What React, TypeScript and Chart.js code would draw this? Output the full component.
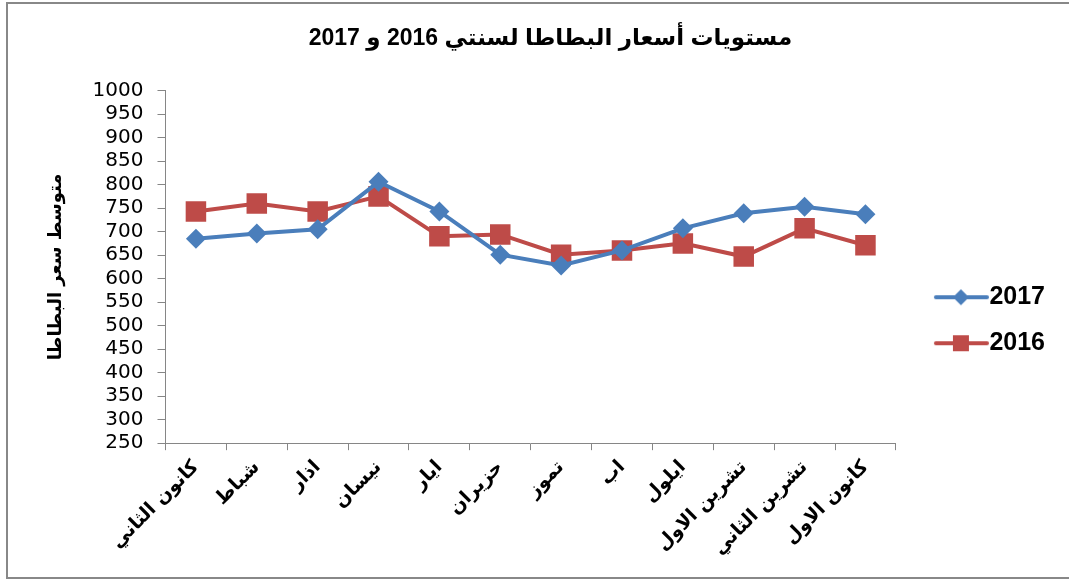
import React, { useEffect, useRef } from "react";
import { Chart, registerables } from "chart.js";

Chart.register(...registerables);

const months = [
  "كانون الثاني",
  "شباط",
  "اذار",
  "نيسان",
  "ايار",
  "حزيران",
  "تموز",
  "اب",
  "ايلول",
  "تشرين الاول",
  "تشرين الثاني",
  "كانون الاول",
];
const prices2017 = [685, 696, 705, 806, 743, 651, 628, 660, 707, 739, 753, 737];
const prices2016 = [743, 760, 743, 775, 690, 694, 651, 660, 675, 647, 707, 671];
const yMin = 250;
const yMax = 1000;
const yStep = 50;

const BLUE = "#4A7EBB";
const RED = "#BE4B48";

function legendImage(color: string, shape: "diamond" | "square") {
  const c = document.createElement("canvas");
  c.width = 84;
  c.height = 24;
  const ctx = c.getContext("2d")!;
  ctx.strokeStyle = color;
  ctx.lineWidth = 4;
  ctx.lineCap = "round";
  ctx.beginPath();
  ctx.moveTo(31, 12);
  ctx.lineTo(82, 12);
  ctx.stroke();
  ctx.fillStyle = color;
  const cx = 56;
  if (shape === "diamond") {
    ctx.beginPath();
    ctx.moveTo(cx, 12 - 8);
    ctx.lineTo(cx + 8, 12);
    ctx.lineTo(cx, 12 + 8);
    ctx.lineTo(cx - 8, 12);
    ctx.closePath();
    ctx.fill();
  } else {
    ctx.fillRect(cx - 8, 12 - 8, 16, 16);
  }
  return c;
}

export default function App() {
  const canvasRef = useRef<HTMLCanvasElement | null>(null);

  useEffect(() => {
    document.body.style.margin = "0";
    const canvas = canvasRef.current!;
    const imgs: Record<string, HTMLCanvasElement> = {
      "2017": legendImage(BLUE, "diamond"),
      "2016": legendImage(RED, "square"),
    };
    const chart = new Chart(canvas, {
      type: "line",
      data: {
        labels: months,
        datasets: [
          {
            label: "2017",
            data: prices2017,
            borderColor: BLUE,
            backgroundColor: BLUE,
            borderWidth: 4,
            pointStyle: "rectRot",
            pointRadius: 10,
            pointHoverRadius: 10,
            pointBorderWidth: 0,
            tension: 0,
          },
          {
            label: "2016",
            data: prices2016,
            borderColor: RED,
            backgroundColor: RED,
            borderWidth: 4,
            pointStyle: "rect",
            pointRadius: 14.5,
            pointHoverRadius: 14.5,
            pointBorderWidth: 0,
            tension: 0,
          },
        ],
      },
      options: {
        responsive: false,
        animation: false,
        layout: { padding: { left: 46, right: 14, top: 0, bottom: 13 } },
        plugins: {
          tooltip: { enabled: false },
          title: {
            display: true,
            text: "مستويات أسعار البطاطا لسنتي 2016 و 2017",
            color: "#000",
            font: { family: "Liberation Sans, DejaVu Sans", size: 23, weight: "bold" },
            padding: { top: 25, bottom: 38 },
          },
          legend: {
            position: "right",
            align: "center",
            title: {
              display: true,
              text: " ",
              font: { size: 12 },
              padding: 30,
            },
            labels: {
              color: "#000",
              font: { family: "Liberation Sans, DejaVu Sans", size: 25, weight: "bold" },
              usePointStyle: true,
              pointStyleWidth: 60,
              padding: 21,
              generateLabels: (ch: any) =>
                ch.data.datasets.map((ds: any, i: number) => ({
                  text: ds.label,
                  pointStyle: imgs[ds.label],
                  fillStyle: ds.borderColor,
                  strokeStyle: ds.borderColor,
                  lineWidth: 0,
                  hidden: false,
                  datasetIndex: i,
                  fontColor: "#000",
                })),
            },
          },
        },
        scales: {
          x: {
            offset: true,
            grid: {
              offset: true,
              drawOnChartArea: false,
              drawTicks: true,
              tickLength: 7,
              color: "#868686",
            },
            border: { color: "#868686", width: 1 },
            ticks: {
              autoSkip: false,
              minRotation: 45,
              maxRotation: 45,
              color: "#000",
              padding: 6,
              font: { family: "DejaVu Sans", size: 19, weight: "bold" },
            },
          },
          y: {
            min: yMin,
            max: yMax,
            grid: {
              drawOnChartArea: false,
              drawTicks: true,
              tickLength: 8,
              color: "#868686",
            },
            border: { color: "#868686", width: 1 },
            ticks: {
              stepSize: yStep,
              autoSkip: false,
              color: "#000",
              padding: 14,
              font: { family: "DejaVu Sans", size: 20 },
              callback: (v: any) => String(v),
            },
            title: {
              display: true,
              text: "متوسط سعر البطاطا",
              color: "#000",
              font: { family: "DejaVu Sans", size: 18, weight: "bold" },
              padding: { top: 0, bottom: 11 },
            },
          },
        },
      },
    });
    return () => chart.destroy();
  }, []);

  return (
    <div style={{ position: "relative", width: 1069, height: 579, background: "#fff" }}>
      <canvas ref={canvasRef} width={1069} height={579} style={{ display: "block" }} />
      <div
        style={{
          position: "absolute",
          left: 6,
          top: 2,
          width: 1070,
          height: 573,
          borderLeft: "2px solid #888",
          borderTop: "2px solid #888",
          borderBottom: "2px solid #888",
          pointerEvents: "none",
        }}
      />
    </div>
  );
}
